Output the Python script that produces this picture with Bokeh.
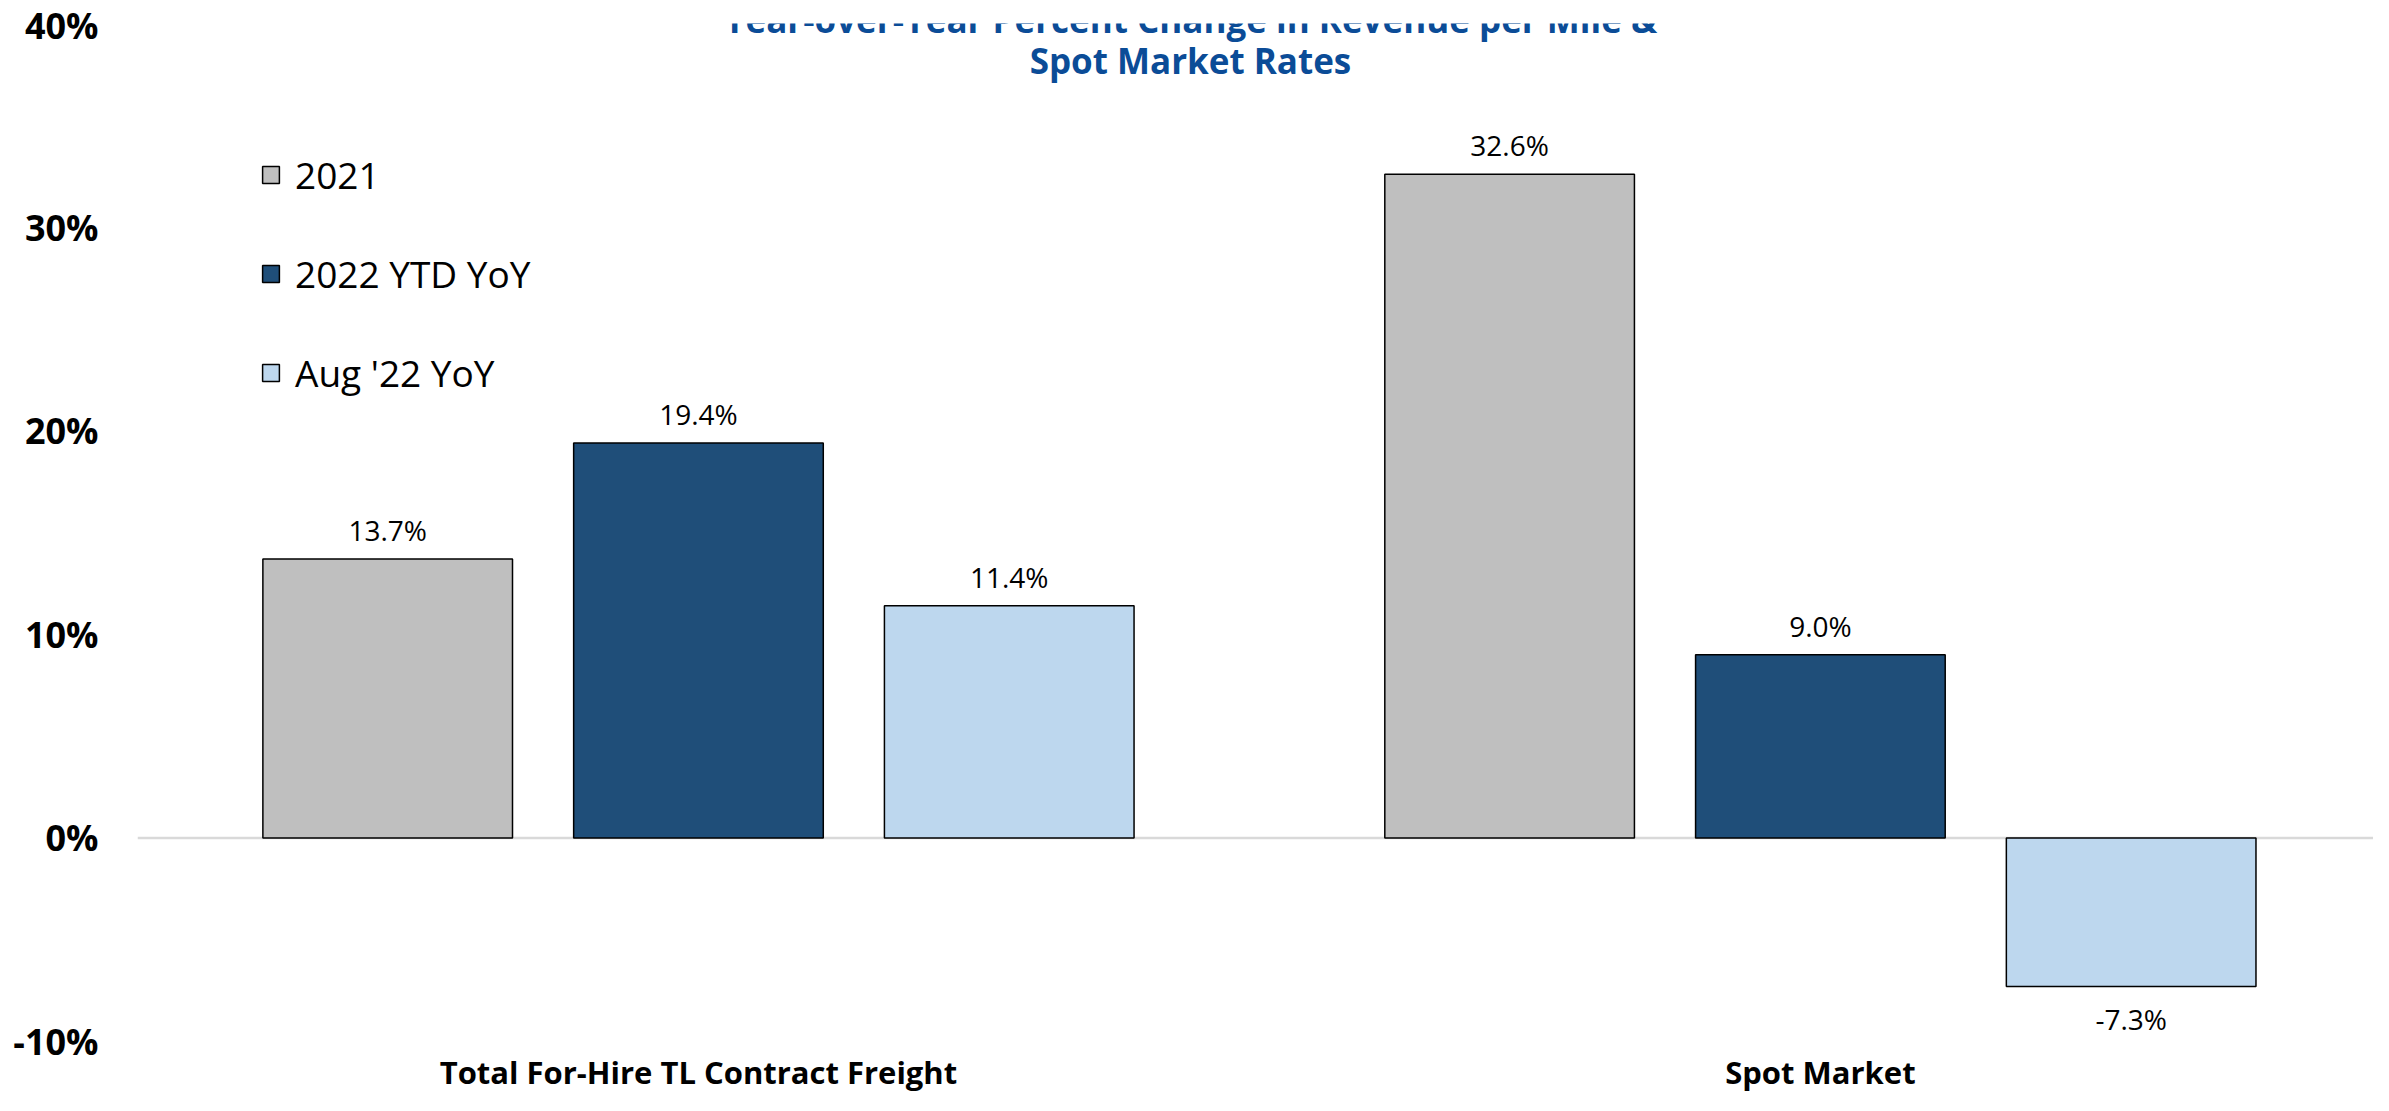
from bokeh.plotting import figure
from bokeh.models import (ColumnDataSource, Range1d, NumeralTickFormatter, FixedTicker,
                          Span, Label, LabelSet, Legend, LegendItem)
from bokeh.core.properties import value
from bokeh.embed import file_html
from bokeh.resources import INLINE

# ---- data ----
categories = ["Total For-Hire TL Contract Freight", "Spot Market"]
series = ["2021", "2022 YTD YoY", "Aug '22 YoY"]
vals_2021 = [13.7, 32.6]
vals_2022_ytd = [19.4, 9.0]
vals_aug22 = [11.4, -7.3]
colors = ["#BFBFBF", "#1F4E79", "#BDD7EE"]
title_lines = ["Year-over-Year Percent Change in Revenue per Mile &", "Spot Market Rates"]
y_ticks = [-0.10, 0.0, 0.10, 0.20, 0.30, 0.40]

FONT = "Open Sans"

p = figure(width=2373, height=1095, output_backend="svg", toolbar_location=None,
           x_range=Range1d(0, 1.993), y_range=Range1d(-0.10, 0.40),
           min_border_left=137, min_border_right=0, min_border_top=23, min_border_bottom=52)
p.outline_line_color = None
p.xgrid.visible = False
p.ygrid.visible = False
p.background_fill_color = "white"

# zero line
p.add_layout(Span(location=0, dimension="width", line_color="#D9D9D9", line_width=2.5, level="underlay"))

offsets = [-0.277, 0.0, 0.277]
bar_w = 0.2225
all_series = [vals_2021, vals_2022_ytd, vals_aug22]
legend_items = []
lx, ly, lt, loff = [], [], [], []
for i, (name, vals, col) in enumerate(zip(series, all_series, colors)):
    xs = [k + 0.5 + offsets[i] for k in range(len(categories))]
    ys = [v / 100.0 for v in vals]
    src = ColumnDataSource(dict(x=xs, top=ys))
    r = p.vbar(x="x", top="top", bottom=0, width=bar_w, source=src,
               fill_color=col, line_color="black", line_width=1.5)
    legend_items.append(LegendItem(label=name, renderers=[r]))
    for x, v in zip(xs, vals):
        lx.append(x)
        ly.append(v / 100.0)
        lt.append(f"{v:.1f}%")
        loff.append(29 if v >= 0 else -32)

lab_src = ColumnDataSource(dict(x=lx, y=ly, t=lt, off=loff))
p.add_layout(LabelSet(x="x", y="y", text="t", source=lab_src, y_offset="off",
                      text_align="center", text_baseline="middle",
                      text_font=value(FONT), text_font_size="28px", text_color="black"))

# y axis
p.yaxis.ticker = FixedTicker(ticks=y_ticks)
p.yaxis.formatter = NumeralTickFormatter(format="0%")
p.yaxis.axis_line_color = None
p.yaxis.major_tick_line_color = None
p.yaxis.minor_tick_line_color = None
p.yaxis.major_tick_out = 0
p.yaxis.major_label_standoff = 39
p.yaxis.major_label_text_font = FONT
p.yaxis.major_label_text_font_style = "bold"
p.yaxis.major_label_text_font_size = "36px"
p.yaxis.major_label_text_color = "black"

# x axis: category names under each group
p.xaxis.ticker = FixedTicker(ticks=[k + 0.5 for k in range(len(categories))])
p.xaxis.major_label_overrides = {k + 0.5: c for k, c in enumerate(categories)}
p.xaxis.axis_line_color = None
p.xaxis.major_tick_line_color = None
p.xaxis.minor_tick_line_color = None
p.xaxis.major_tick_out = 0
p.xaxis.major_label_standoff = 9
p.xaxis.major_label_text_font = FONT
p.xaxis.major_label_text_font_style = "bold"
p.xaxis.major_label_text_font_size = "31px"
p.xaxis.major_label_text_color = "black"

# title as labels inside the plot area
for y, t in zip([0.4022, 0.3819], title_lines):
    p.add_layout(Label(x=0.9385, y=y, text=t, text_align="center", text_baseline="middle",
                       text_font=FONT, text_font_style="bold", text_font_size="35px",
                       text_color="#0B4C97"))

legend = Legend(items=legend_items, location=(123, 643), orientation="vertical",
                glyph_width=21, glyph_height=21, label_height=44, spacing=48,
                label_standoff=14, padding=0, margin=0,
                border_line_color=None, background_fill_alpha=0,
                label_text_font=FONT, label_text_font_size="37px", label_text_color="black")
p.add_layout(legend)

open("out.html", "w").write(file_html(p, INLINE))
